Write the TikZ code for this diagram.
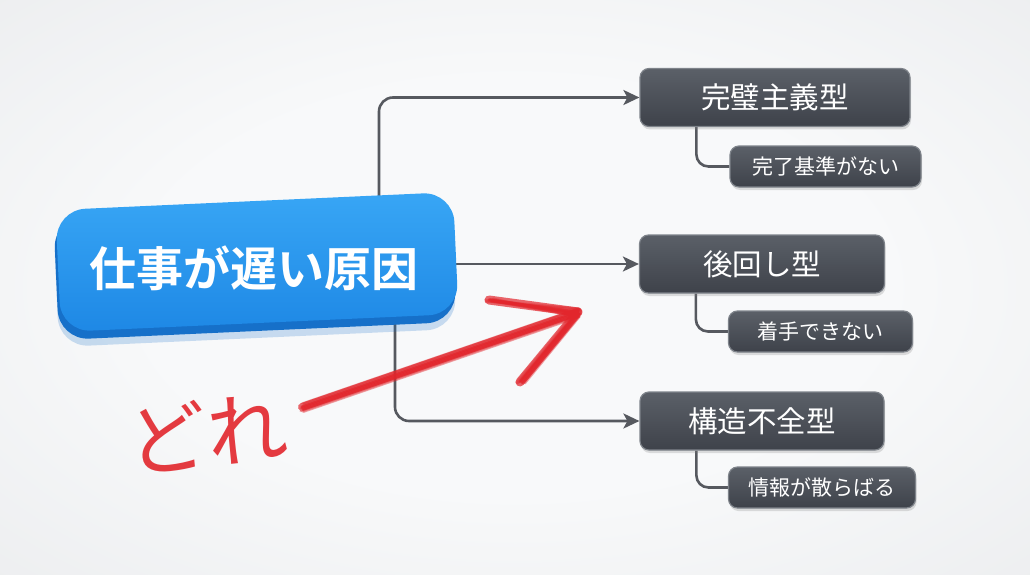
\documentclass[tikz,border=0pt]{standalone}
\usepackage{fontspec}
\usetikzlibrary{arrows.meta,shadows}
\newfontfamily\jp{Noto Sans CJK JP}[BoldFont={Noto Sans CJK JP Bold}]
\definecolor{bgin}{HTML}{F8F9FA}
\definecolor{bgout}{HTML}{D7D9DC}
\definecolor{bluetop}{HTML}{38A6F5}
\definecolor{bluebot}{HTML}{1E88E5}
\definecolor{bluelip}{HTML}{1670C9}
\definecolor{boxtop}{HTML}{5B6068}
\definecolor{boxbot}{HTML}{3E424A}
\definecolor{boxline}{HTML}{7E838A}
\definecolor{lineg}{HTML}{56595F}
\definecolor{crayon}{HTML}{E2262C}
\pgfdeclareradialshading{backdrop}{\pgfpoint{0bp}{0bp}}{color(0bp)=(bgin); color(18bp)=(bgin); color(72bp)=(bgout)}
\pgfdeclarelayer{back}
\pgfsetlayers{back,main}

\begin{document}
\begin{tikzpicture}[x=1pt, y=-1pt,
    rootbox/.style={rotate=2.6, minimum width=398pt, minimum height=122pt, rounded corners=30pt},
    headbox/.style={rounded corners=9pt, top color=boxtop, bottom color=boxbot, draw=boxline, line width=1.2pt,
        minimum height=58pt, text=white, font=\jp\fontsize{29.5}{29.5}\selectfont,
        drop shadow={opacity=0.25, shadow xshift=1pt, shadow yshift=-3pt}},
    subbox/.style={headbox, minimum height=41pt, font=\jp\fontsize{21}{21}\selectfont},
    conn/.style={draw=lineg, line width=2.6pt, rounded corners=14pt, -{Stealth[length=16pt,width=15pt,inset=4pt]}},
    subconn/.style={draw=lineg, line width=2.6pt, rounded corners=12pt},
    crayonline/.style={draw=crayon, line cap=round, line join=round}]
        \useasboundingbox (0,0) rectangle (1030,575);

        \node[rootbox, fill=bluelip, drop shadow={fill=bluelip, opacity=0.22, shadow xshift=0pt, shadow yshift=-7pt}] (rootlip) at (255,270) {};
        \node[rootbox, top color=bluetop, bottom color=bluebot] (root) at (257,262) {};
        \node[text=white, font=\jp\bfseries\fontsize{47}{47}\selectfont] (roottext) at (254,268) {仕事が遅い原因};

        \node[headbox, minimum width=270pt] (perfect) at (775,97.5) {完璧主義型};
        \node[subbox, minimum width=191pt] (nodone) at (825.5,166.5) {完了基準がない};
        \node[headbox, minimum width=245pt] (later) at (762,264) {後回し型};
        \node[subbox, minimum width=184pt] (nostart) at (820.5,331.5) {着手できない};
        \node[headbox, minimum width=244pt] (broken) at (762,421) {構造不全型};
        \node[subbox, minimum width=187pt] (scatter) at (822,487.5) {情報が散らばる};

        \coordinate (up) at (379,240);
        \coordinate (across) at (420,264);
        \coordinate (down) at (395,290);

        \begin{pgfonlayer}{back}
        \shade[shading=backdrop] (0,0) rectangle (1030,575);
        \draw[conn] (up) |- (perfect.west);
        \draw[conn] (across) -- (later.west);
        \draw[conn] (down) |- (broken.west);
        \draw[subconn] ([xshift=57pt]perfect.south west) |- (nodone.west);
        \draw[subconn] ([xshift=57pt]later.south west) |- (nostart.west);
        \draw[subconn] ([xshift=57pt]broken.south west) |- (scatter.west);
        \end{pgfonlayer}

        % red crayon arrow
        \coordinate (rtail) at (302,407);
        \coordinate (rtip) at (578,312);
        \coordinate (rwing1) at (489,300);
        \coordinate (rwing2) at (520,382);
        \draw[crayonline, line width=8pt, opacity=0.7] (rtail) -- (rtip);
        \draw[crayonline, line width=9pt, opacity=0.7] (rwing1) -- (rtip) -- (rwing2);
        \pgfmathsetseed{7}
        \foreach \i in {1,...,16} {
            \pgfmathsetmacro\dx{rand*2}
            \pgfmathsetmacro\dy{rand*5}
            \pgfmathsetmacro\o{0.25+0.3*rnd}
            \draw[crayonline, line width=2pt, opacity=\o] ([shift={(\dx,\dy)}]rtail) -- ([shift={(\dx,\dy)}]rtip);
            \draw[crayonline, line width=2pt, opacity=\o] ([shift={(\dy,\dx)}]rwing1) -- ([shift={(\dx,\dy)}]rtip) -- ([shift={(\dy,\dx)}]rwing2);
        }

        \node[text=crayon, font=\jp\fontsize{80}{80}\selectfont, rotate=6, opacity=0.9] (which) at (207,433) {どれ};
\end{tikzpicture}
\end{document}
